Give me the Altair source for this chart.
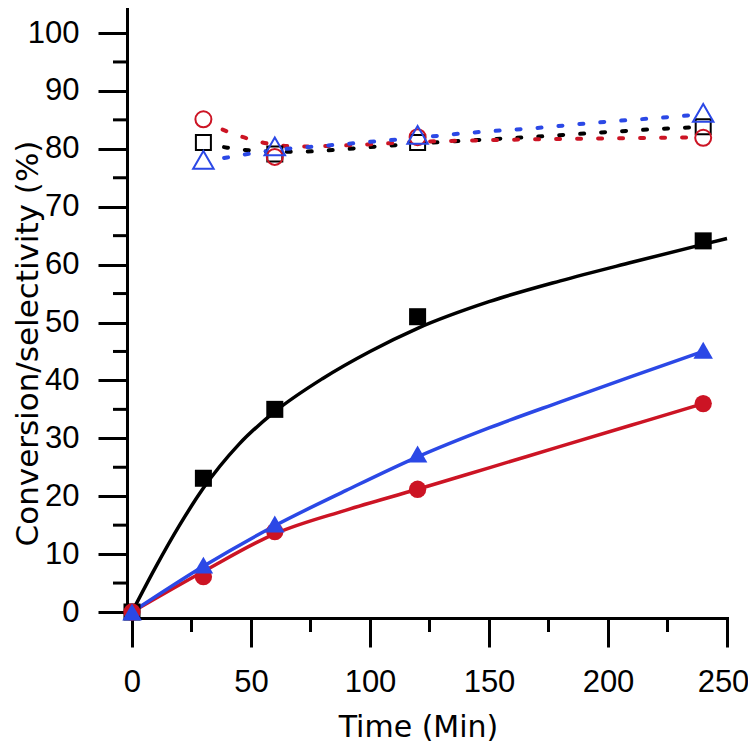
import altair as alt
import pandas as pd

series = ["black square", "red circle", "blue triangle"]
colors = ["#000000", "#CC1424", "#2B48E6"]
shapes = ["square", "circle", "triangle-up"]

# conversion (filled markers)
conv_time = [0, 30, 60, 120, 240]
conv_black = [0, 23.1, 35.0, 51.0, 64.1]
conv_red = [0, 6.1, 13.9, 21.2, 36.0]
conv_blue = [0, 8.1, 15.2, 27.3, 45.2]

# selectivity (open markers)
sel_time = [30, 60, 120, 240]
sel_black = [81.1, 79.1, 81.1, 83.8]
sel_red = [85.1, 78.6, 82.0, 81.9]
sel_blue = [78.1, 80.4, 82.4, 86.2]

# fitted conversion curves
fit_black_t = [0, 10, 20, 30, 45, 60, 80, 100, 120, 150, 180, 210, 240, 250]
fit_black_v = [0, 7.8, 15.0, 21.4, 29.0, 34.6, 40.3, 45.0, 49.0, 53.6, 57.2, 60.4, 63.5, 64.5]
fit_red_t = [0, 30, 60, 90, 120, 150, 180, 210, 240]
fit_red_v = [0, 7.0, 13.5, 17.6, 21.2, 24.9, 28.6, 32.3, 36.0]
fit_blue_t = [0, 30, 60, 90, 120, 150, 180, 210, 240]
fit_blue_v = [0, 7.9, 14.9, 21.0, 26.8, 31.8, 36.3, 40.7, 45.0]

# dotted selectivity curves
dot_black_t = [30, 40, 50, 60, 70, 85, 100, 120, 140, 170, 200, 220, 240]
dot_black_v = [81.0, 80.2, 79.7, 79.5, 79.5, 79.8, 80.3, 80.9, 81.4, 82.1, 82.9, 83.4, 83.8]
dot_red_t = [30, 40, 50, 60, 70, 90, 120, 150, 200, 240]
dot_red_v = [84.8, 83.0, 81.6, 80.7, 80.4, 80.6, 81.2, 81.5, 81.8, 82.0]
dot_blue_t = [30, 40, 50, 65, 80, 100, 120, 140, 170, 200, 220, 240]
dot_blue_v = [77.8, 78.5, 79.2, 80.0, 80.5, 81.2, 81.9, 82.7, 83.6, 84.7, 85.3, 86.0]

# axis tick values
x_major = [0, 50, 100, 150, 200, 250]
x_minor = [25, 75, 125, 175, 225]
y_major = [0, 10, 20, 30, 40, 50, 60, 70, 80, 90, 100]
y_minor = [5, 15, 25, 35, 45, 55, 65, 75, 85, 95]

conv_vals = [conv_black, conv_red, conv_blue]
sel_vals = [sel_black, sel_red, sel_blue]
fits = [(fit_black_t, fit_black_v), (fit_red_t, fit_red_v), (fit_blue_t, fit_blue_v)]
dots = [(dot_black_t, dot_black_v), (dot_red_t, dot_red_v), (dot_blue_t, dot_blue_v)]

filled_sizes = [290, 300, 380]
open_sizes = [225, 256, 420]

# ---- scales & axes ----
xs = alt.Scale(domain=[-2.1, 250], nice=False, zero=False)
ys = alt.Scale(domain=[-1.036, 104.32], nice=False, zero=False)

x_axis = alt.Axis(
    values=x_major,
    tickSize=29,
    labelOffset={"condition": {"test": "datum.value === 250", "value": -4}, "value": 0},
    tickWidth=3, tickColor="black",
    domainWidth=3, domainColor="black", domainCap="square",
    grid=False, labelFlush=False, labelOverlap=False,
    labelFont="Liberation Sans", labelFontSize=31, labelColor="black", labelPadding=20,
    titleFont="DejaVu Sans", titleFontSize=30, titleFontWeight="normal", titleColor="black",
    titleX=291, titleY=118, titleAlign="center", titleBaseline="alphabetic",
)
y_axis = alt.Axis(
    values=y_major,
    tickSize=29,
    tickWidth=3, tickColor="black",
    domainWidth=3, domainColor="black", domainCap="square",
    grid=False, labelFlush=False, labelOverlap=False,
    labelFont="Liberation Sans", labelFontSize=31, labelColor="black", labelPadding=19,
    titleFont="DejaVu Sans", titleFontSize=31, titleFontWeight="normal", titleColor="black",
    titleX=-90, titleY=335, titleAlign="center", titleBaseline="alphabetic", titleAngle=270,
)
X = alt.X("t:Q", title="Time (Min)", scale=xs, axis=x_axis)
Y = alt.Y("v:Q", title="Conversion/selectivity (%)", scale=ys, axis=y_axis)

layers = []
# minor ticks (positioned through the scales)
layers.append(alt.Chart(pd.DataFrame({"t": x_minor})).mark_rule(color="black", strokeWidth=3)
              .encode(x=X, y=alt.value(610), y2=alt.value(624)))
layers.append(alt.Chart(pd.DataFrame({"v": y_minor})).mark_rule(color="black", strokeWidth=3)
              .encode(y=Y, x=alt.value(0), x2=alt.value(-14)))
# dotted selectivity lines
for s, c, (tt, vv) in zip(series, colors, dots):
    df = pd.DataFrame({"t": tt, "v": vv})
    layers.append(alt.Chart(df).mark_line(color=c, strokeWidth=4, strokeDash=[4, 17],
                                          strokeCap="round", interpolate="monotone").encode(x=X, y=Y))
# conversion fitted lines
for s, c, (tt, vv) in zip(series, colors, fits):
    df = pd.DataFrame({"t": tt, "v": vv})
    layers.append(alt.Chart(df).mark_line(color=c, strokeWidth=3.5,
                                          interpolate="monotone").encode(x=X, y=Y))
# filled conversion markers
for s, c, sh, sz, vals in zip(series, colors, shapes, filled_sizes, conv_vals):
    df = pd.DataFrame({"t": conv_time, "v": vals})
    layers.append(alt.Chart(df).mark_point(shape=sh, size=sz, filled=True, color=c,
                                           opacity=1).encode(x=X, y=Y))
# white backgrounds of open markers
for s, c, sh, sz, vals in zip(series, colors, shapes, open_sizes, sel_vals):
    df = pd.DataFrame({"t": sel_time, "v": vals})
    layers.append(alt.Chart(df).mark_point(shape=sh, size=sz, filled=True, color="white",
                                           opacity=1).encode(x=X, y=Y))
# open marker outlines
for s, c, sh, sz, vals in zip(series, colors, shapes, open_sizes, sel_vals):
    df = pd.DataFrame({"t": sel_time, "v": vals})
    layers.append(alt.Chart(df).mark_point(shape=sh, size=sz, filled=False, color=c,
                                           strokeWidth=2, opacity=1).encode(x=X, y=Y))

chart = alt.layer(*layers).properties(
    width=600, height=610,
    autosize=alt.AutoSizeParams(type="none"),
    padding={"left": 119, "top": 0, "right": 21, "bottom": 124},
).configure_view(stroke=None)

chart.save("out.html", embed_options={"renderer": "svg", "actions": False})
